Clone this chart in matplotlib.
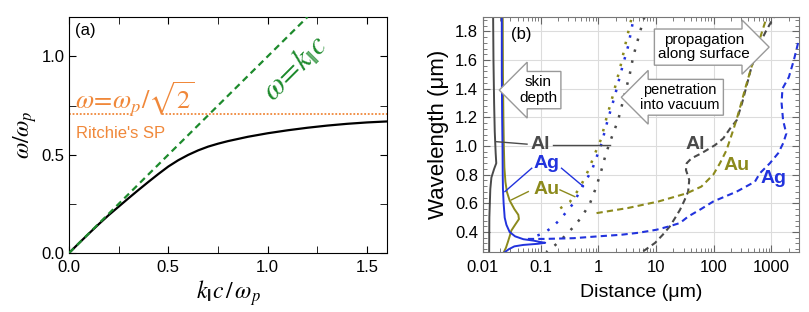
import matplotlib
matplotlib.use("Agg")
import matplotlib.pyplot as plt
from matplotlib.ticker import MultipleLocator, LogLocator, NullFormatter, FixedLocator, FixedFormatter, FormatStrFormatter

plt.rcParams['font.family'] = ['Liberation Sans', 'DejaVu Sans']
plt.rcParams['mathtext.fontset'] = 'stix'

# ---------------- Panel (a) data ----------------
k_sp = [0.0, 0.05, 0.1, 0.15, 0.2, 0.25, 0.3, 0.35, 0.4, 0.45, 0.5, 0.55, 0.6, 0.65, 0.7, 0.75, 0.8,
        0.9, 1.0, 1.1, 1.2, 1.3, 1.4, 1.5, 1.6]
w_sp = [0.0, 0.05, 0.099, 0.147, 0.193, 0.236, 0.279, 0.321, 0.362, 0.402, 0.44, 0.472, 0.499, 0.522,
        0.541, 0.556, 0.569, 0.591, 0.609, 0.624, 0.637, 0.648, 0.657, 0.664, 0.669]
k_light = [0.0, 1.2]
w_light = [0.0, 1.2]
w_ritchie = 0.707
ritchie_seg1 = [0.0, 0.31]
ritchie_seg2 = [0.47, 1.6]

# ---------------- Panel (b) data ----------------
# skin depth (solid)
lam_al_skin = [1.9, 1.6, 1.3, 1.1, 0.95, 0.88, 0.84, 0.78, 0.7, 0.5, 0.26]
d_al_skin = [0.0150, 0.0152, 0.0156, 0.0160, 0.0166, 0.0170, 0.0156, 0.0140, 0.0134, 0.0129, 0.0128]
lam_ag_skin = [1.9, 1.5, 1.2, 1.0, 0.8, 0.7, 0.6, 0.5, 0.45, 0.4, 0.37, 0.35, 0.34, 0.33, 0.325, 0.318, 0.31, 0.3, 0.28, 0.26]
d_ag_skin = [0.0212, 0.0212, 0.0215, 0.0218, 0.022, 0.0222, 0.0228, 0.0238, 0.0255, 0.029, 0.036, 0.05, 0.075, 0.1, 0.12, 0.09, 0.05, 0.035, 0.028, 0.024]
lam_au_skin = [1.9, 1.5, 1.2, 1.0, 0.85, 0.75, 0.68, 0.62, 0.56, 0.52, 0.49, 0.45, 0.41, 0.37, 0.33, 0.29, 0.26]
d_au_skin = [0.0220, 0.0222, 0.0226, 0.023, 0.0235, 0.0245, 0.026, 0.029, 0.035, 0.041, 0.042, 0.036, 0.031, 0.029, 0.027, 0.025, 0.023]

# penetration into vacuum (dotted)
lam_al_vac = [1.9, 1.8, 1.62, 1.5, 1.37, 1.18, 1.06, 0.95, 0.82, 0.71, 0.59, 0.49, 0.43, 0.37, 0.31, 0.26]
d_al_vac = [6.3, 5.3, 4.0, 3.5, 2.9, 2.2, 1.7, 1.36, 1.11, 0.91, 0.70, 0.48, 0.36, 0.26, 0.18, 0.125]
lam_au_vac = [1.88, 1.75, 1.55, 1.34, 1.18, 1.05, 0.96, 0.83, 0.71, 0.61, 0.555]
d_au_vac = [3.7, 3.1, 2.4, 1.75, 1.35, 1.12, 0.9, 0.67, 0.48, 0.32, 0.20]
lam_ag_vac = [1.85, 1.7, 1.55, 1.34, 1.18, 1.02, 0.83, 0.72, 0.6, 0.49, 0.43, 0.39, 0.37, 0.355]
d_ag_vac = [3.9, 3.3, 2.6, 1.9, 1.45, 1.14, 0.77, 0.53, 0.37, 0.22, 0.155, 0.11, 0.08, 0.065]

# propagation along surface (dashed)
lam_al_prop = [0.266, 0.324, 0.38, 0.44, 0.5, 0.555, 0.62, 0.682, 0.763, 0.833, 0.88, 0.914, 0.949, 1.006, 1.053, 1.122, 1.18, 1.3, 1.4, 1.55, 1.71, 1.8, 1.9]
d_al_prop = [6.0, 9.6, 13, 17.4, 21.5, 26, 31, 36, 37.6, 33, 34, 41, 61, 105, 146, 192, 250, 310, 360, 450, 620, 800, 1100]
lam_au_prop = [0.532, 0.567, 0.613, 0.67, 0.717, 0.8, 0.88, 0.97, 1.11, 1.2, 1.3, 1.4, 1.55, 1.7, 1.8, 1.9]
d_au_prop = [0.93, 3.2, 11, 34, 61, 98, 128, 166, 217, 255, 300, 350, 450, 580, 690, 830]
lam_ag_prop = [0.352, 0.352, 0.357, 0.37, 0.381, 0.395, 0.416, 0.44, 0.463, 0.508, 0.56, 0.613, 0.682, 0.751, 0.81, 0.88, 0.95, 1.02, 1.087, 1.18, 1.3, 1.4, 1.48, 1.6, 1.72, 1.76]
d_ag_prop = [0.06, 0.12, 0.37, 1.0, 2.5, 5, 10.2, 17, 26, 36, 60, 98, 250, 517, 630, 940, 1310, 1600, 1810, 1590, 1500, 1550, 2000, 2450, 2900, 3200]

wl_ticks = [0.4, 0.6, 0.8, 1.0, 1.2, 1.4, 1.6, 1.8]
dist_ticks = [0.01, 0.1, 1, 10, 100, 1000]
dist_labels = ['0.01', '0.1', '1', '10', '100', '1000']

C_GREEN = '#1d8a2c'
C_ORANGE = '#f0883a'
C_OLIVE = '#8c8a1c'
C_BLUE = '#2233dd'
C_GRAY = '#4a4a4a'

fig = plt.figure(figsize=(8.09, 3.12), dpi=100)

# ---------------- Panel (a) ----------------
ax1 = fig.add_axes([0.0853, 0.189, 0.393, 0.7565])
ax1.plot(k_sp, w_sp, color='black', lw=1.6, zorder=3, solid_joinstyle='round')
ax1.plot(k_light, w_light, color=C_GREEN, lw=1.6, ls=(0, (3, 2)), zorder=4)
ax1.plot(ritchie_seg1, [w_ritchie] * 2, color=C_ORANGE, lw=1.3, ls=(0, (1, 1)))
ax1.plot(ritchie_seg2, [w_ritchie] * 2, color=C_ORANGE, lw=1.3, ls=(0, (1, 1)))
ax1.set_xlim(0, 1.6)
ax1.set_ylim(0, 1.2)
ax1.xaxis.set_major_locator(MultipleLocator(0.5))
ax1.xaxis.set_minor_locator(MultipleLocator(0.25))
ax1.yaxis.set_major_locator(MultipleLocator(0.5))
ax1.yaxis.set_minor_locator(MultipleLocator(0.25))
ax1.xaxis.set_major_formatter(FormatStrFormatter('%.1f'))
ax1.yaxis.set_major_formatter(FormatStrFormatter('%.1f'))
ax1.tick_params(which='both', direction='in', top=True, right=True, labelsize=12, length=5)
ax1.tick_params(axis='x', pad=5)
ax1.tick_params(axis='y', pad=3)
ax1.set_xlabel(r'$k_{|\!|}c\,/\,\omega_p$', fontsize=17, labelpad=2)
ax1.set_ylabel(r'$\omega/\omega_p$', fontsize=17, labelpad=2)
ax1.text(0.03, 1.17, '(a)', fontsize=12, va='top', ha='left')
ax1.text(0.03, 0.737, r'$\omega\!=\!\omega_p/\sqrt{2}$', color=C_ORANGE, fontsize=19, ha='left', va='baseline')
ax1.text(0.035, 0.585, "Ritchie's SP", color=C_ORANGE, fontsize=12, ha='left', va='baseline')
ax1.text(1.14, 0.935, r'$\omega\!=\!k_{|\!|}c$', color=C_GREEN, fontsize=22, ha='center', va='center',
         rotation=45, rotation_mode='anchor')

# ---------------- Panel (b) ----------------
ax2 = fig.add_axes([0.597, 0.192, 0.3906, 0.7535])
ax2.set_xscale('log')
ax2.set_xlim(0.01, 3000)
ax2.set_ylim(0.26, 1.9)
ax2.grid(True, which='major', color='#dcdcdc', lw=0.8, zorder=0)
ax2.set_axisbelow(True)

ax2.plot(d_al_skin, lam_al_skin, color=C_GRAY, lw=1.4)
ax2.plot(d_au_skin, lam_au_skin, color=C_OLIVE, lw=1.4)
ax2.plot(d_ag_skin, lam_ag_skin, color=C_BLUE, lw=1.4)

dot = (0, (1, 3.5))
ax2.plot(d_al_vac, lam_al_vac, color=C_GRAY, lw=1.8, ls=dot)
ax2.plot(d_au_vac, lam_au_vac, color=C_OLIVE, lw=1.8, ls=dot)
ax2.plot(d_ag_vac, lam_ag_vac, color=C_BLUE, lw=1.8, ls=dot)

dash = (0, (3, 2))
ax2.plot(d_al_prop, lam_al_prop, color=C_GRAY, lw=1.5, ls=dash)
ax2.plot(d_au_prop, lam_au_prop, color=C_OLIVE, lw=1.5, ls=dash)
ax2.plot(d_ag_prop, lam_ag_prop, color=C_BLUE, lw=1.5, ls=dash)

ax2.xaxis.set_major_locator(FixedLocator(dist_ticks))
ax2.xaxis.set_major_formatter(FixedFormatter(dist_labels))
ax2.xaxis.set_minor_locator(LogLocator(base=10, subs=range(2, 10), numticks=20))
ax2.xaxis.set_minor_formatter(NullFormatter())
ax2.yaxis.set_major_locator(FixedLocator(wl_ticks))
ax2.yaxis.set_major_formatter(FormatStrFormatter('%.1f'))
ax2.yaxis.set_minor_locator(MultipleLocator(0.04))
ax2.tick_params(which='both', direction='in', top=True, right=True, labelsize=12, color='#666666')
ax2.tick_params(which='major', length=5)
ax2.tick_params(which='minor', length=3)
ax2.tick_params(axis='x', pad=6)
for s in ax2.spines.values():
    s.set_color('#777777')
ax2.set_xlabel('Distance (μm)', fontsize=14, labelpad=6)
ax2.set_ylabel('Wavelength (μm)', fontsize=16, labelpad=4)

ax2.text(0.047, 1.78, '(b)', fontsize=12, ha='center', va='center')

# labels with connectors (left)
ax2.plot([0.0173, 0.058], [1.03, 1.013], color=C_GRAY, lw=1.0)
ax2.plot([0.165, 1.6], [1.01, 1.01], color=C_GRAY, lw=1.0)
ax2.text(0.097, 1.01, 'Al', color=C_GRAY, fontsize=14, fontweight='bold', ha='center', va='center')
ax2.plot([0.024, 0.07], [0.682, 0.845], color=C_BLUE, lw=1.0)
ax2.plot([0.23, 0.55], [0.845, 0.717], color=C_BLUE, lw=1.0)
ax2.text(0.127, 0.875, 'Ag', color=C_BLUE, fontsize=14, fontweight='bold', ha='center', va='center')
ax2.plot([0.031, 0.061], [0.624, 0.682], color=C_OLIVE, lw=1.0)
ax2.plot([0.216, 0.39], [0.694, 0.647], color=C_OLIVE, lw=1.0)
ax2.text(0.127, 0.70, 'Au', color=C_OLIVE, fontsize=14, fontweight='bold', ha='center', va='center')

# labels (right)
ax2.text(47, 1.01, 'Al', color=C_GRAY, fontsize=14, fontweight='bold', ha='center', va='center')
ax2.text(250, 0.865, 'Au', color=C_OLIVE, fontsize=14, fontweight='bold', ha='center', va='center')
ax2.text(1100, 0.775, 'Ag', color=C_BLUE, fontsize=14, fontweight='bold', ha='center', va='center')

# boxed arrows
box_l = dict(boxstyle='larrow,pad=0.25', fc='white', ec='#999999', lw=1.0)
box_r = dict(boxstyle='rarrow,pad=0.25', fc='white', ec='#999999', lw=1.0)
ax2.text(0.09, 1.39, 'skin\ndepth', fontsize=11, ha='center', va='center', linespacing=1.15, bbox=box_l)
ax2.text(26, 1.34, 'penetration\ninto vacuum', fontsize=10.5, ha='center', va='center', linespacing=1.05, bbox=box_l)
ax2.text(68, 1.69, 'propagation\nalong surface', fontsize=11, ha='center', va='center', linespacing=1.05, bbox=box_r)

fig.savefig('out.png', dpi=100)
